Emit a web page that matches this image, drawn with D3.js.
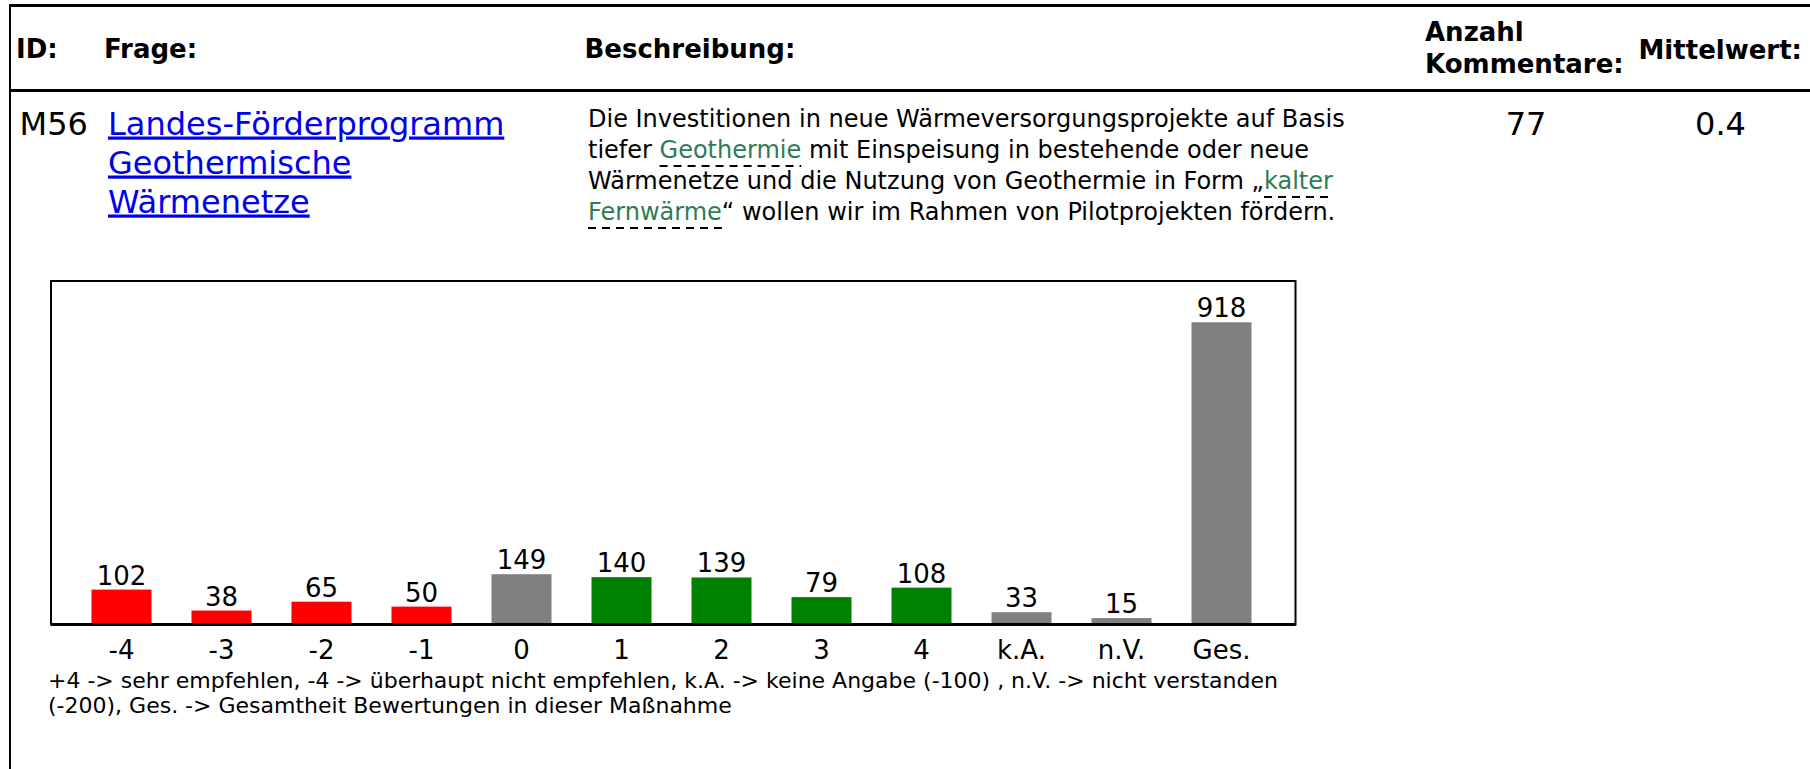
<!DOCTYPE html>
<html>
<head>
<meta charset="utf-8">
<script src="https://cdn.jsdelivr.net/npm/d3@7"></script>
<style>
  html, body { margin: 0; padding: 0; background: #fff; }
  svg { display: block; font-family: "DejaVu Sans", sans-serif; }
</style>
</head>
<body>
<svg id="page" width="1810" height="769"></svg>
<script>
// --- data ---
const headers = ["ID:", "Frage:", "Beschreibung:", "Anzahl", "Kommentare:", "Mittelwert:"];
const rowId = "M56";
const questionLines = ["Landes-Förderprogramm", "Geothermische", "Wärmenetze"];
const commentCount = "77";
const meanValue = "0.4";
// description, each line a list of [text, isGlossaryTerm]
const descriptionLines = [
  [["Die Investitionen in neue Wärmeversorgungsprojekte auf Basis", false]],
  [["tiefer ", false], ["Geothermie", true], [" mit Einspeisung in bestehende oder neue", false]],
  [["Wärmenetze und die Nutzung von Geothermie in Form „", false], ["kalter", true]],
  [["Fernwärme", true], ["“ wollen wir im Rahmen von Pilotprojekten fördern.", false]]
];
const categories = ["-4", "-3", "-2", "-1", "0", "1", "2", "3", "4", "k.A.", "n.V.", "Ges."];
const counts = [102, 38, 65, 50, 149, 140, 139, 79, 108, 33, 15, 918];
const footnoteLines = [
  "+4 -> sehr empfehlen, -4 -> überhaupt nicht empfehlen, k.A. -> keine Angabe (-100) , n.V. -> nicht verstanden",
  "(-200), Ges. -> Gesamtheit Bewertungen in dieser Maßnahme"
];

const svg = d3.select("#page");

// --- table frame ---
svg.append("line").attr("x1", 10).attr("x2", 10).attr("y1", 4).attr("y2", 769)
  .attr("stroke", "#000").attr("stroke-width", 2);
svg.append("line").attr("x1", 9).attr("x2", 1810).attr("y1", 5.5).attr("y2", 5.5)
  .attr("stroke", "#000").attr("stroke-width", 3);
svg.append("line").attr("x1", 9).attr("x2", 1810).attr("y1", 90.5).attr("y2", 90.5)
  .attr("stroke", "#000").attr("stroke-width", 3);

// header
const headerPos = [[16, 58], [104, 58], [584.5, 58], [1425, 41], [1425, 72.5], [1638.5, 58.5]];
svg.append("g").selectAll("text")
  .data(headers)
  .join("text")
  .attr("x", (d, i) => headerPos[i][0])
  .attr("y", (d, i) => headerPos[i][1])
  .attr("font-size", 26)
  .attr("font-weight", "bold")
  .text(d => d);

// row
svg.append("text").attr("x", 19.6).attr("y", 134.5).attr("font-size", 32).text(rowId);

svg.append("g").selectAll("text")
  .data(questionLines)
  .join("text")
  .attr("x", 108)
  .attr("y", (d, i) => 134.5 + i * 39)
  .attr("font-size", 32)
  .attr("fill", "#0000ee")
  .style("text-decoration", "underline")
  .text(d => d);

svg.append("text").attr("x", 1526).attr("y", 134.5).attr("font-size", 32)
  .attr("text-anchor", "middle").text(commentCount);
svg.append("text").attr("x", 1720.5).attr("y", 134.5).attr("font-size", 32)
  .attr("text-anchor", "middle").text(meanValue);

// description with glossary terms
const desc = svg.append("g");
descriptionLines.forEach((segs, li) => {
  const baseline = 126.5 + li * 31;
  let x = 588;
  segs.forEach(([t, term]) => {
    const el = desc.append("text")
      .attr("x", x).attr("y", baseline)
      .attr("font-size", 24)
      .attr("fill", term ? "#2e7b55" : "#000")
      .style("white-space", "pre")
      .attr("xml:space", "preserve")
      .text(t);
    const w = el.node().getComputedTextLength();
    if (term) {
      desc.append("line")
        .attr("x1", x).attr("x2", x + w)
        .attr("y1", baseline + 8.5).attr("y2", baseline + 8.5)
        .attr("stroke", "#000").attr("stroke-width", 2.2)
        .attr("stroke-dasharray", "8,6");
    }
    x += w;
  });
});

// --- bar chart ---
const box = { left: 51, right: 1295.5, top: 281, bottom: 624.5 };

const x = d3.scaleBand()
  .domain(categories)
  .range([71.5, 1271.5])
  .paddingInner(0.4)
  .paddingOuter(0.2);

const y = d3.scaleLinear()
  .domain([0, 1044])
  .range([623, 281]);

function barColor(c) {
  const n = +c;
  if (isNaN(n) || n === 0) return "#808080";
  return n < 0 ? "#ff0000" : "#008000";
}

const chart = svg.append("g");

chart.selectAll(".bar")
  .data(counts)
  .join("rect")
  .attr("class", "bar")
  .attr("x", (d, i) => x(categories[i]))
  .attr("y", d => y(d))
  .attr("width", x.bandwidth())
  .attr("height", d => y(0) - y(d))
  .attr("fill", (d, i) => barColor(categories[i]));

chart.selectAll(".val")
  .data(counts)
  .join("text")
  .attr("class", "val")
  .attr("x", (d, i) => x(categories[i]) + x.bandwidth() / 2)
  .attr("y", d => y(d) - 5)
  .attr("text-anchor", "middle")
  .attr("font-size", 26)
  .text(d => d);

// frame
chart.append("rect")
  .attr("x", box.left).attr("y", box.top)
  .attr("width", box.right - box.left).attr("height", box.bottom - box.top)
  .attr("fill", "none").attr("stroke", "#000").attr("stroke-width", 2);

// x axis
const xAxis = d3.axisBottom(x).tickSize(0).tickPadding(0);
const ax = chart.append("g")
  .attr("transform", `translate(0, ${box.bottom})`)
  .call(xAxis);
ax.select(".domain")
  .attr("d", `M${box.left},0H${box.right}`)
  .attr("stroke-width", 3);
ax.selectAll(".tick text")
  .attr("y", 34)
  .attr("dy", null)
  .attr("font-size", 26)
  .attr("font-family", "DejaVu Sans")
  .attr("fill", "#000");

// footnote
svg.append("g").selectAll("text")
  .data(footnoteLines)
  .join("text")
  .attr("x", 48)
  .attr("y", (d, i) => 688 + i * 25)
  .attr("font-size", 22)
  .text(d => d);
</script>
</body>
</html>
